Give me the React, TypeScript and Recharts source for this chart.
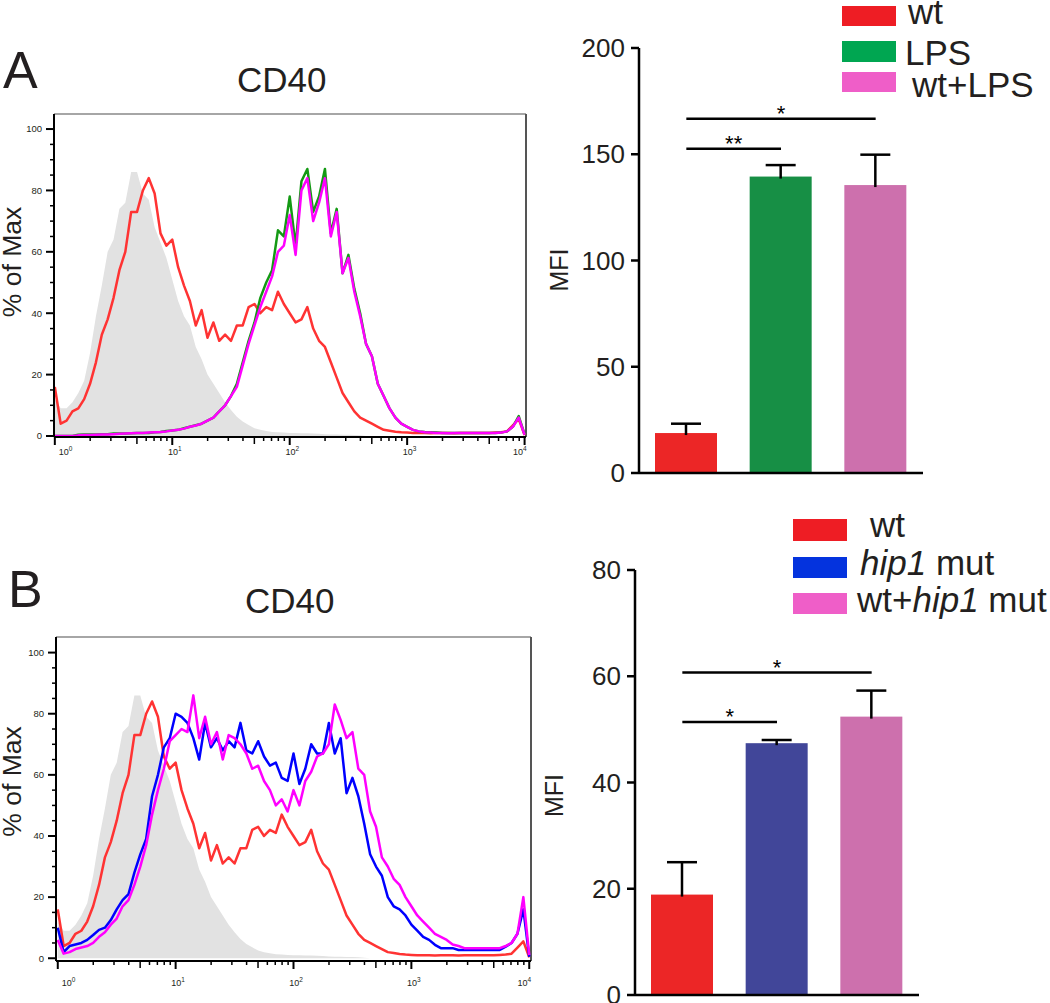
import {
  Area,
  Bar,
  BarChart,
  ComposedChart,
  Legend,
  Line,
  ReferenceLine,
  XAxis,
  YAxis,
} from "recharts";

const FONT = '"Liberation Sans", Arial, Helvetica, sans-serif';
const INK = "#231f20";

// flow channels, 20 per decade
const channel = [
  1, 1.122, 1.259, 1.413, 1.585, 1.778, 1.995, 2.239, 2.512, 2.818,
  3.162, 3.548, 3.981, 4.467, 5.012, 5.623, 6.31, 7.079, 7.943, 8.913,
  10, 11.22, 12.59, 14.13, 15.85, 17.78, 19.95, 22.39, 25.12, 28.18,
  31.62, 35.48, 39.81, 44.67, 50.12, 56.23, 63.1, 70.79, 79.43, 89.13,
  100, 112.2, 125.9, 141.3, 158.5, 177.8, 199.5, 223.9, 251.2, 281.8,
  316.2, 354.8, 398.1, 446.7, 501.2, 562.3, 631, 707.9, 794.3, 891.3,
  1000, 1122, 1259, 1413, 1585, 1778, 1995, 2239, 2512, 2818,
  3162, 3548, 3981, 4467, 5012, 5623, 6310, 7079, 7943, 8913,
  10000,
];

// % of max
const isotype = [
  12, 9, 9, 11, 14, 18, 27, 39, 49, 60,
  64, 74, 76, 86, 86, 79, 77, 68, 63, 58,
  51, 44, 39, 36, 29, 25, 20, 17, 14, 11,
  8.5, 6.3, 4.7, 3.6, 2.5, 2, 1.6, 1.3, 1.2, 1.1,
  1, 1, 0.9, 0.9, 0.8, 0.7, 0.6, 0.5, 0.5, 0.4,
  0.4, 0.3, 0.2, 0, 0, 0, 0, 0, 0, 0,
  0, 0, 0, 0, 0, 0, 0, 0, 0, 0,
  0, 0, 0, 0, 0, 0, 0, 0, 0, 0,
  0,
];
const wtCurve = [
  16, 4, 5, 8, 9, 12, 17, 24, 33, 38,
  45, 54, 60, 73, 73, 80, 84, 79, 66, 62,
  64, 55, 49, 44, 36, 41, 32, 37, 31, 33,
  31, 36, 36, 42, 43, 40, 42, 41, 47, 43,
  40, 37, 38, 42, 35, 31, 29, 24, 19, 14,
  11, 8, 6, 5, 4, 3, 2, 1.7, 1.4, 1.2,
  1.1, 1, 1, 1, 0.9, 1, 1, 1, 0.9, 1,
  1, 1, 1, 1, 1, 1.1, 1.2, 1.5, 3.5, 5.5,
  0.3,
];
const lpsCurve = [
  0, 0, 0, 0, 0.4, 0.5, 0.5, 0.5, 0.6, 0.6,
  0.8, 0.8, 0.8, 0.9, 1, 1, 1, 1.2, 1.3, 1.6,
  1.8, 2, 2.5, 3, 3.5, 4, 5, 6, 8, 10,
  13, 17, 24, 31, 37, 45, 50, 54, 67, 65,
  78, 62, 83, 87, 73, 78, 87, 66, 74, 53,
  59, 48, 40, 30, 26, 17, 13, 9, 6, 4,
  3, 2, 1.5, 1.3, 1.2, 1.1, 1, 1, 1, 1,
  1, 1, 1, 1, 1, 1, 1.1, 1.5, 3, 6.5,
  0.5,
];
const wtLpsCurve = [
  0, 0, 0, 0, 0.2, 0.3, 0.3, 0.4, 0.5, 0.5,
  0.6, 0.7, 0.8, 0.9, 1, 1, 1.1, 1.2, 1.3, 1.5,
  1.8, 2, 2.4, 3, 3.4, 4, 5, 6, 8, 10,
  13, 16, 23, 30, 36, 42, 47, 52, 60, 62,
  72, 59, 80, 84, 70, 76, 84, 65, 73, 53,
  58, 47, 39, 30, 26, 17, 13, 9, 6, 4,
  3, 2, 1.5, 1.2, 1.1, 1, 1, 0.9, 1, 1,
  1, 1, 1, 1, 1, 1, 1.1, 1.5, 3, 6,
  0.4,
];
const hip1Curve = [
  10, 2, 4, 4.5, 5, 6, 7.6, 9.3, 10, 12.5,
  16, 19, 21, 28, 34, 39, 53, 60, 69, 72,
  80, 79, 77, 72, 65, 77, 69, 72, 68, 71,
  69, 77, 68, 67, 71, 66, 63, 64, 59, 58,
  67, 57, 62, 70, 67, 67, 77, 67, 72, 54,
  59, 53, 44, 34, 30, 27, 20, 17, 16, 14,
  11, 9, 7, 6, 4.4, 3.3, 3.3, 3.3, 2.7, 2.7,
  2.7, 2.7, 2.7, 2.7, 2.7, 2.7, 3.8, 5, 8, 16,
  0.5,
];
const wtHip1Curve = [
  6, 1.5, 2, 3, 3.5, 4, 5, 7, 8.5, 11,
  13, 17, 19, 24, 30, 37, 47, 55, 62, 71,
  73, 75, 74, 86, 72, 79, 70, 74, 65, 73,
  72, 70, 67, 62, 63, 58, 55, 50, 52, 48,
  55, 50, 58, 61, 66, 67, 70, 83, 78, 72,
  74, 62, 60, 48, 43, 33, 30, 26, 24, 20,
  17, 14, 12, 10, 8, 7, 6, 4.5, 4, 3.3,
  3.3, 3.3, 3.3, 3.3, 3.3, 3.3, 4, 5, 8, 20,
  1,
];

const histXTicks = [
  1, 2, 3, 4, 5, 6, 7, 8, 9,
  10, 20, 30, 40, 50, 60, 70, 80, 90,
  100, 200, 300, 400, 500, 600, 700, 800, 900,
  1000, 2000, 3000, 4000, 5000, 6000, 7000, 8000, 9000,
  10000,
];
const histYTicks = [0, 5, 10, 15, 20, 25, 30, 35, 40, 45, 50, 55, 60, 65, 70, 75, 80, 85, 90, 95, 100];

// bar panels
const groupsA = ["wt", "LPS", "wt+LPS"];
const mfiA = [18.8, 139.5, 135.5];
const semA = [4.4, 5.4, 14.3];
const ticksA = [0, 50, 100, 150, 200];
const sigA = [
  { from: "wt", to: "LPS", y: 152.6, mark: "**" },
  { from: "wt", to: "wt+LPS", y: 166.7, mark: "*" },
];

const groupsB = ["wt", "hip1 mut", "wt+hip1 mut"];
const mfiB = [18.9, 47.4, 52.4];
const semB = [6.1, 0.6, 4.9];
const ticksB = [0, 20, 40, 60, 80];
const sigB = [
  { from: "wt", to: "hip1 mut", y: 51.4, mark: "*" },
  { from: "wt", to: "wt+hip1 mut", y: 60.7, mark: "*" },
];

const barColorsA = ["#ec2626", "#178f45", "#cd70ad"];
const legendColorsA = ["#ee1d24", "#00a651", "#ef5ec8"];
const barColorsB = ["#ec2626", "#414699", "#cd70ad"];
const legendColorsB = ["#ee1d24", "#0433de", "#ef5ec8"];

const histRowsA = channel.map((x, i) => ({
  x,
  gray: isotype[i],
  red: wtCurve[i],
  green: lpsCurve[i],
  magenta: wtLpsCurve[i],
}));
const histRowsB = channel.map((x, i) => ({
  x,
  gray: isotype[i],
  red: wtCurve[i],
  blue: hip1Curve[i],
  magenta: wtHip1Curve[i],
}));
const barRowsA = groupsA.map((group, i) => ({ group, mfi: mfiA[i], sem: semA[i] }));
const barRowsB = groupsB.map((group, i) => ({ group, mfi: mfiB[i], sem: semB[i] }));

const LogTick = (props: any) => {
  const { x, y, payload, labelDy } = props;
  const v = payload.value;
  const lg = Math.log10(v);
  const dec = Math.round(lg);
  const major = Math.abs(lg - dec) < 1e-6;
  const lead = Math.round(v / Math.pow(10, Math.floor(lg + 1e-9)));
  const len = major ? 8 : lead === 5 ? 7 : 4;
  let anchor = "middle";
  let lx = x + 2.5;
  if (major && dec === 0) {
    anchor = "start";
    lx = x + 4;
  }
  if (major && dec === 4) {
    anchor = "end";
    lx = x + 2;
  }
  return (
    <g>
      <line x1={x} y1={y} x2={x} y2={y + len} stroke="#000" strokeWidth={major ? 2 : 1.5} />
      {major && (
        <text x={lx} y={y + labelDy} textAnchor={anchor} fontSize={9} fill={INK} fontFamily={FONT}>
          10
          <tspan dy={-4} fontSize={6.5}>
            {dec}
          </tspan>
        </text>
      )}
    </g>
  );
};

const PctTick = (props: any) => {
  const { x, y, payload } = props;
  const v = payload.value;
  const major = v % 20 === 0;
  return (
    <g>
      <line x1={x - (major ? 8 : 4)} y1={y} x2={x} y2={y} stroke="#000" strokeWidth={major ? 2 : 1.5} />
      {major && (
        <text x={x - 12} y={y + 3.3} textAnchor="end" fontSize={9.5} fill={INK} fontFamily={FONT}>
          {v}
        </text>
      )}
    </g>
  );
};

type Series = { key: string; color: string };

function Histogram(props: {
  rows: any[];
  series: Series[];
  width: number;
  height: number;
  top: number;
  right: number;
  bottom: number;
  yWidth: number;
  xDomain: [number, number];
  yDomain: [number, number];
  labelDy: number;
  yLabelY: number;
}) {
  const { rows, series, width, height, top, right, bottom, yWidth, xDomain, yDomain, labelDy, yLabelY } = props;
  return (
    <ComposedChart width={width} height={height} data={rows} margin={{ top, right, bottom, left: 0 }}>
      <XAxis
        dataKey="x"
        type="number"
        scale="log"
        domain={xDomain}
        allowDataOverflow
        ticks={histXTicks}
        interval={0}
        tickSize={0}
        tickMargin={0}
        tickLine={false}
        height={30}
        axisLine={{ stroke: "#000", strokeWidth: 2 }}
        tick={(p: any) => <LogTick {...p} labelDy={labelDy} />}
      />
      <YAxis
        type="number"
        domain={yDomain}
        allowDataOverflow
        ticks={histYTicks}
        interval={0}
        tickSize={0}
        tickMargin={0}
        tickLine={false}
        width={yWidth}
        axisLine={{ stroke: "#000", strokeWidth: 2 }}
        tick={(p: any) => <PctTick {...p} />}
        label={{
          content: () => (
            <text
              x={21}
              y={yLabelY}
              transform={`rotate(-90 21 ${yLabelY})`}
              textAnchor="middle"
              fontSize={26.5}
              fill={INK}
              fontFamily={FONT}
            >
              % of Max
            </text>
          ),
        }}
      />
      <ReferenceLine y={yDomain[1]} stroke="#888" strokeWidth={1.5} ifOverflow="visible" />
      <ReferenceLine x={xDomain[1]} stroke="#555" strokeWidth={2} ifOverflow="visible" />
      <Area
        dataKey="gray"
        type="linear"
        fill="#e2e2e2"
        fillOpacity={1}
        stroke="none"
        baseValue={0}
        isAnimationActive={false}
      />
      {series.map((s) => (
        <Line
          key={s.key}
          dataKey={s.key}
          type="linear"
          stroke={s.color}
          strokeWidth={2.5}
          strokeLinejoin="round"
          dot={false}
          isAnimationActive={false}
        />
      ))}
    </ComposedChart>
  );
}

function BarWithError(props: any) {
  const { x, y, width, height, index, colors, rows } = props;
  const row = props.payload && props.payload.mfi !== undefined ? props.payload : rows[index];
  const unit = row.mfi > 0 ? height / row.mfi : 0;
  const top = y - row.sem * unit;
  const cx = x + width / 2;
  return (
    <g>
      <rect x={x} y={y} width={width} height={height} fill={colors[index]} />
      <line x1={cx} y1={y + 2} x2={cx} y2={top} stroke="#000" strokeWidth={2.5} />
      <line x1={cx - 15} y1={top} x2={cx + 15} y2={top} stroke="#000" strokeWidth={2.5} />
    </g>
  );
}

function LegendLabel({ text }: { text: string }) {
  const parts = text.split("hip1");
  return (
    <>
      {parts.map((p, i) => (
        <tspan key={i}>
          {i > 0 && <tspan fontStyle="italic">hip1</tspan>}
          {p}
        </tspan>
      ))}
    </>
  );
}

function SwatchLegend(props: {
  labels: string[];
  colors: string[];
  tops: number[];
  heights: number[];
  bases: number[];
  textX: number[];
}) {
  const { labels, colors, tops, heights, bases, textX } = props;
  return (
    <svg width={260} height={125} style={{ display: "block", overflow: "visible" }}>
      {labels.map((lab, i) => (
        <g key={lab}>
          <rect x={0} y={tops[i]} width={54} height={heights[i]} fill={colors[i]} />
          <text x={textX[i]} y={bases[i]} fontSize={35} fill={INK} fontFamily={FONT} style={{ whiteSpace: "pre" }}>
            <LegendLabel text={lab} />
          </text>
        </g>
      ))}
    </svg>
  );
}

function MfiBars(props: {
  rows: any[];
  groups: string[];
  colors: string[];
  legendColors: string[];
  ticks: number[];
  sig: { from: string; to: string; y: number; mark: string }[];
  width: number;
  height: number;
  top: number;
  right: number;
  yWidth: number;
  xHeight: number;
  mfiX: number;
  mfiY: number;
  legendLeft: number;
  legendGeom: { tops: number[]; heights: number[]; bases: number[]; textX: number[] };
}) {
  const { rows, groups, colors, legendColors, ticks, sig, width, height, top, right, yWidth, xHeight, mfiX, mfiY, legendLeft, legendGeom } = props;
  return (
    <BarChart width={width} height={height} data={rows} margin={{ top, right, bottom: 0, left: 0 }}>
      <XAxis
        dataKey="group"
        tick={false}
        tickLine={false}
        height={xHeight}
        axisLine={{ stroke: "#000", strokeWidth: 2.5 }}
      />
      <YAxis
        type="number"
        domain={[ticks[0], ticks[ticks.length - 1]]}
        allowDataOverflow
        ticks={ticks}
        interval={0}
        width={yWidth}
        tickSize={8}
        tickMargin={6}
        tick={{ fontSize: 26, fill: INK, fontFamily: FONT }}
        tickLine={{ stroke: "#000", strokeWidth: 2.5 }}
        axisLine={{ stroke: "#000", strokeWidth: 2.5 }}
        label={{
          content: () => (
            <text
              x={mfiX}
              y={mfiY}
              transform={`rotate(-90 ${mfiX} ${mfiY})`}
              textAnchor="middle"
              fontSize={25}
              fill={INK}
              fontFamily={FONT}
            >
              MFI
            </text>
          ),
        }}
      />
      <Bar
        dataKey="mfi"
        barSize={62}
        isAnimationActive={false}
        shape={(p: any) => <BarWithError {...p} colors={colors} rows={rows} />}
      />
      {sig.map((s) => (
        <ReferenceLine
          key={s.to}
          segment={[
            { x: s.from, y: s.y },
            { x: s.to, y: s.y },
          ]}
          stroke="#000"
          strokeWidth={2.5}
          ifOverflow="visible"
          label={{
            content: (lp: any) => {
              const vb = lp.viewBox || {};
              const cx = (vb.x ?? 0) + (vb.width ?? 0) / 2;
              return (
                <text x={cx} y={(vb.y ?? 0) + 2} textAnchor="middle" fontSize={22} fill="#000" fontFamily={FONT}>
                  {s.mark}
                </text>
              );
            },
          }}
        />
      ))}
      <Legend
        layout="vertical"
        align="center"
        verticalAlign="middle"
        wrapperStyle={{ left: legendLeft, top: 0, width: 260, height: 125 }}
        content={() => <SwatchLegend labels={groups} colors={legendColors} {...legendGeom} />}
      />
    </BarChart>
  );
}

export default function App() {
  return (
    <div
      style={{
        position: "absolute",
        left: 0,
        top: 0,
        width: 1050,
        height: 1003,
        overflow: "hidden",
        background: "#fff",
        fontFamily: FONT,
      }}
    >
      <div style={{ position: "absolute", left: 0, top: 0 }}>
        <Histogram
          rows={histRowsA}
          series={[
            { key: "red", color: "#ff3333" },
            { key: "green", color: "#149a14" },
            { key: "magenta", color: "#ff00ff" },
          ]}
          width={540}
          height={470}
          top={114}
          right={14}
          bottom={3}
          yWidth={54}
          xDomain={[0.984, 10280]}
          yDomain={[-0.33, 104.9]}
          labelDy={18}
          yLabelY={262}
        />
      </div>
      <div style={{ position: "absolute", left: 0, top: 500 }}>
        <Histogram
          rows={histRowsB}
          series={[
            { key: "red", color: "#ff3333" },
            { key: "blue", color: "#0000ff" },
            { key: "magenta", color: "#ff00ff" },
          ]}
          width={540}
          height={500}
          top={137}
          right={9}
          bottom={9}
          yWidth={56}
          xDomain={[0.966, 10350]}
          yDomain={[-0.9, 105.1]}
          labelDy={25}
          yLabelY={281.5}
        />
      </div>
      <div style={{ position: "absolute", left: 540, top: 0 }}>
        <MfiBars
          rows={barRowsA}
          groups={groupsA}
          colors={barColorsA}
          legendColors={legendColorsA}
          ticks={ticksA}
          sig={sigA}
          width={510}
          height={490}
          top={48}
          right={127}
          yWidth={99}
          xHeight={17}
          mfiX={28}
          mfiY={270}
          legendLeft={302}
          legendGeom={{ tops: [6, 41, 72], heights: [20, 21, 20], bases: [24, 65, 97], textX: [66, 63, 70] }}
        />
      </div>
      <div style={{ position: "absolute", left: 540, top: 500 }}>
        <MfiBars
          rows={barRowsB}
          groups={groupsB}
          colors={barColorsB}
          legendColors={legendColorsB}
          ticks={ticksB}
          sig={sigB}
          width={510}
          height={503}
          top={70}
          right={131}
          yWidth={95}
          xHeight={8}
          mfiX={23}
          mfiY={295.5}
          legendLeft={253}
          legendGeom={{ tops: [19, 57, 93], heights: [22, 21, 21], bases: [37, 75, 112], textX: [77, 67, 64] }}
        />
      </div>
      <svg
        width={1050}
        height={1003}
        style={{ position: "absolute", left: 0, top: 0, pointerEvents: "none" }}
      >
        <text x={3} y={88} fontSize={52} fill={INK} fontFamily={FONT}>
          A
        </text>
        <text x={237} y={92} fontSize={35} fill={INK} fontFamily={FONT}>
          CD40
        </text>
        <text x={8} y={607} fontSize={52} fill={INK} fontFamily={FONT}>
          B
        </text>
        <text x={245} y={613} fontSize={35} fill={INK} fontFamily={FONT}>
          CD40
        </text>
      </svg>
    </div>
  );
}
